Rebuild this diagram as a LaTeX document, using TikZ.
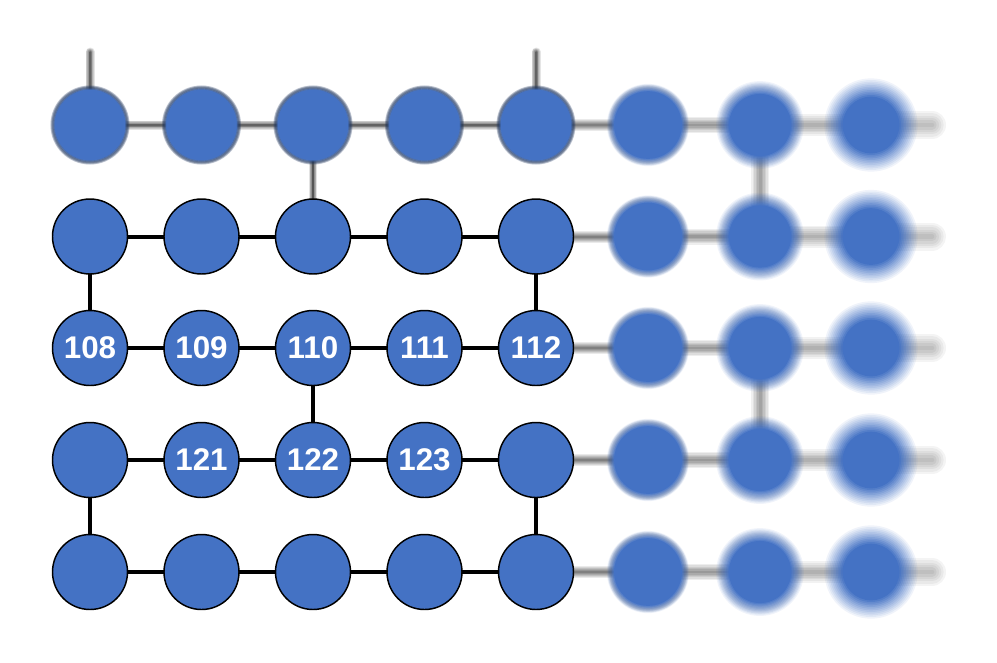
\documentclass[tikz,border=0pt]{standalone}
\usepackage{fontspec}
\setmainfont{Liberation Sans}
\definecolor{qblue}{HTML}{4472C4}
\tikzset{
  qb/.style={circle, minimum size=56.25pt, inner sep=0pt, fill=qblue, draw=black,
             line width=1.1pt, text=white, font=\bfseries\fontsize{23.5}{24}\selectfont},
  crisp/.style={black, line width=3pt},
}
% blurred disk: #1 centre, #2 blur half-width (px), #3 ring opacity
\newcommand{\bdisk}[3]{%
  \foreach \j in {0,...,11}{%
    \pgfmathsetmacro{\rr}{(37.5+#2-2*#2*(\j+0.5)/12)*0.75}%
    \pgfmathsetmacro{\aa}{1/(12-\j)}%
    \fill[qblue,opacity=\aa] (#1) circle[radius=\rr pt];
  }%
  \pgfmathsetmacro{\rw}{(1.5+#2)*0.75}%
  \draw[black,opacity=#3,line width=\rw pt] (#1) circle[radius=28.1pt];
  \draw[black,opacity=#3,line width=\rw pt/2] (#1) circle[radius=28.1pt];
}
% blurred line: #1, #2 end points, #3 blur (px)
\newcommand{\bline}[3]{%
  \pgfmathsetmacro{\pk}{min(1,4/(4+1.0*#3))}%
  \foreach \j in {0,...,5}{%
    \pgfmathsetmacro{\ww}{(4+2*#3)*(6-\j)/6*0.75}%
    \pgfmathsetmacro{\aa}{1-(1-\pk*(\j+1)/6)/(1-\pk*\j/6)}%
    \draw[black,opacity=\aa,line width=\ww pt,line cap=round] (#1) -- (#2);
  }%
}
\begin{document}
\begin{tikzpicture}[x=0.75pt,y=-0.75pt]
\useasboundingbox (0,0) rectangle (997,662);
% grid coordinates
\foreach \c/\x in {1/90,2/201.5,3/313,4/424.5,5/536,6/648,7/760,8/871}{
  \foreach \r/\y in {1/125,2/236.5,3/348,4/460,5/572}{
    \coordinate (p\r\c) at (\x,\y);
  }
}
\foreach \r/\y in {1/125,2/236.5,3/348,4/460,5/572}{
  \coordinate (t\r) at (932,\y);
}
\coordinate (s1) at (90,52);
\coordinate (s5) at (536,52);

% ---- connectors ----
% top row (slightly blurred)
\bline{s1}{p11}{2.5}
\bline{s5}{p15}{2.5}
\bline{p11}{p12}{2.5}
\bline{p12}{p13}{2.5}
\bline{p13}{p14}{2.5}
\bline{p14}{p15}{2.5}
\bline{p13}{p23}{2}
% rows 2-5, crisp part
\foreach \r in {2,3,4,5}{
  \draw[crisp] (p\r1) -- (p\r2) -- (p\r3) -- (p\r4) -- (p\r5);
}
\draw[crisp] (p21) -- (p31);
\draw[crisp] (p25) -- (p35);
\draw[crisp] (p33) -- (p43);
\draw[crisp] (p41) -- (p51);
\draw[crisp] (p45) -- (p55);
% blurred right part
\foreach \r in {1,2,3,4,5}{
  \bline{p\r5}{p\r6}{4}
  \bline{p\r6}{p\r7}{6}
  \bline{p\r7}{p\r8}{9}
  \bline{p\r8}{t\r}{12}
}
\bline{p17}{p27}{7}
\bline{p37}{p47}{7}

% ---- qubits ----
\foreach \c in {1,...,5}{ \bdisk{p1\c}{2.5}{0.18} }
\foreach \r in {1,...,5}{
  \bdisk{p\r6}{4}{0.05}
  \bdisk{p\r7}{7}{0.02}
  \bdisk{p\r8}{10}{0.0}
}
\node[qb] (q21) at (p21) {};
\node[qb] (q22) at (p22) {};
\node[qb] (q23) at (p23) {};
\node[qb] (q24) at (p24) {};
\node[qb] (q25) at (p25) {};
\node[qb] (q108) at (p31) {108};
\node[qb] (q109) at (p32) {109};
\node[qb] (q110) at (p33) {110};
\node[qb] (q111) at (p34) {111};
\node[qb] (q112) at (p35) {112};
\node[qb] (q41) at (p41) {};
\node[qb] (q121) at (p42) {121};
\node[qb] (q122) at (p43) {122};
\node[qb] (q123) at (p44) {123};
\node[qb] (q45) at (p45) {};
\node[qb] (q51) at (p51) {};
\node[qb] (q52) at (p52) {};
\node[qb] (q53) at (p53) {};
\node[qb] (q54) at (p54) {};
\node[qb] (q55) at (p55) {};
\end{tikzpicture}
\end{document}
